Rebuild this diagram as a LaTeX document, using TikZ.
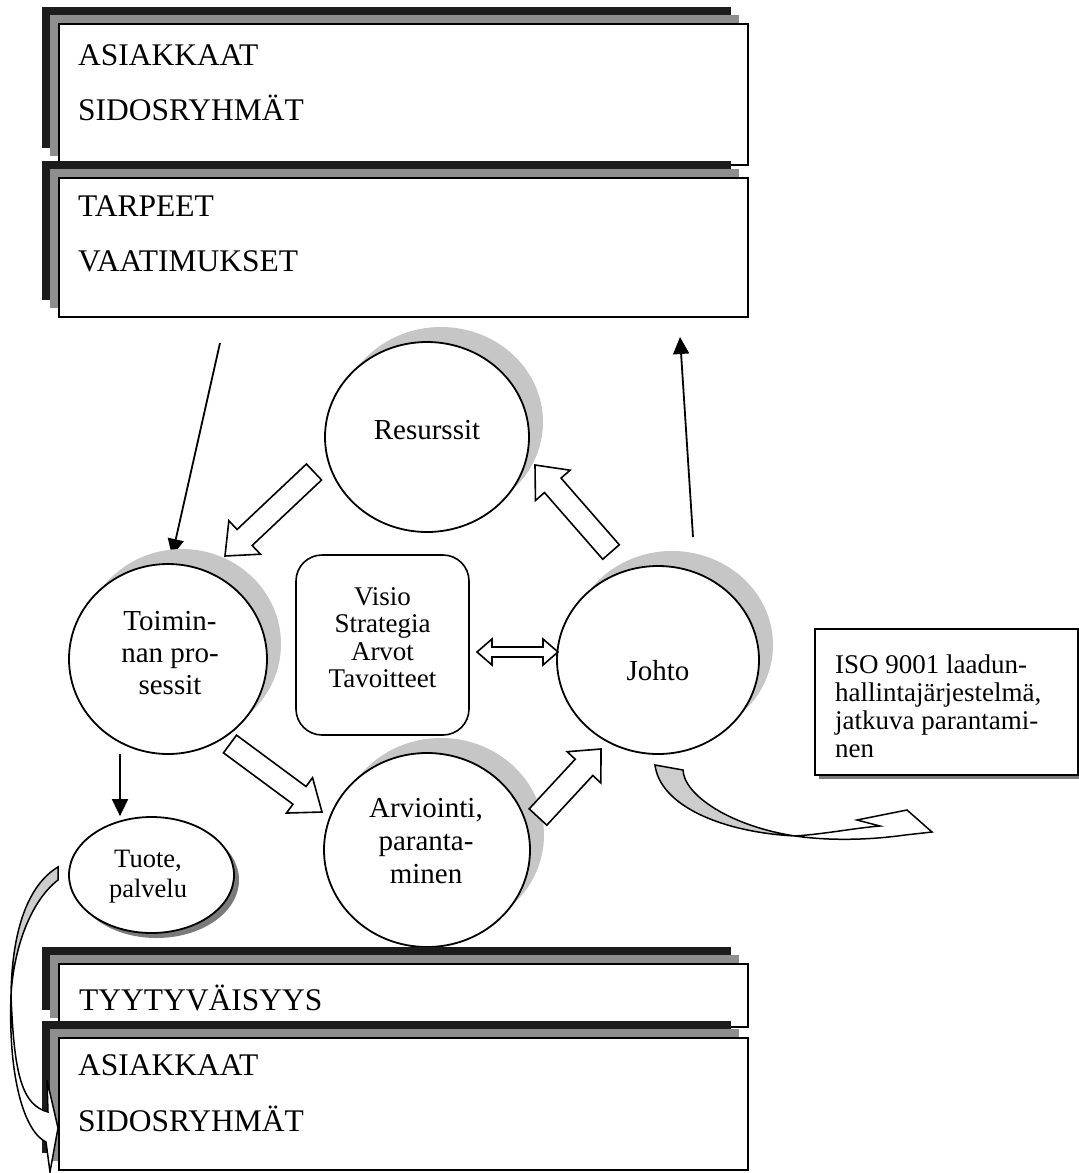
\documentclass[tikz,border=0pt]{standalone}
\usepackage{fontspec}
\setmainfont{Liberation Serif}
\usetikzlibrary{calc,arrows.meta,shapes.geometric}

\definecolor{shadowdark}{HTML}{1C1C1C}
\definecolor{shadowmid}{HTML}{8E8E8E}
\definecolor{orbshade}{HTML}{C6C6C6}
\definecolor{dropgray}{HTML}{7A7A7A}
\definecolor{ribbongray}{HTML}{CDCDCD}

\tikzset{
  panel/.style={draw=black, line width=2pt, fill=white, rectangle, inner sep=0pt, anchor=north west},
  orb/.style={draw=black, line width=1.8pt, fill=white, ellipse, inner sep=0pt},
  plate/.style={draw=black, line width=1.6pt, fill=white, rectangle, rounded corners=26pt, inner sep=0pt},
  notebox/.style={draw=black, line width=1.6pt, fill=white, rectangle, inner sep=0pt, anchor=north west},
  bigtext/.style={font=\fontsize{31.5}{38}\selectfont, inner sep=0pt, anchor=base west},
  orbtext/.style={font=\fontsize{29}{32}\selectfont, inner sep=0pt, anchor=base},
  hollow/.style={draw=black, line width=1.6pt, fill=white, line join=miter},
  pointer/.style={draw=black, line width=1.8pt, -{Triangle[length=17pt,width=16pt]}},
  ribbonline/.style={draw=black, line width=1.5pt, line join=miter},
}

% box with two stacked offset shadows (dark, then stippled grey)
\newcommand\layeredpanel[5]{%
  \fill[shadowdark] (#2-16,#3-16) rectangle (#4-16,#5-16);
  \fill[shadowmid] (#2-8,#3-8) rectangle (#4-8,#5-8);
  \node[panel, minimum width={#4-#2}, minimum height={#5-#3}] (#1) at (#2,#3) {};
}
% ellipse with a soft shadow towards the upper right
\newcommand\shadedorb[5]{%
  \fill[orbshade] (#2+14,#3-15) ellipse [x radius=#4, y radius=#5];
  \node[orb, minimum width={2*#4}, minimum height={2*#5}] (#1) at (#2,#3) {};
}
% hollow block arrow: tail, tip, shaft half-width, head length, head half-width
\newcommand\blockarrow[5]{%
  \coordinate (ba-base) at ($(#2)!#4!(#1)$);
  \draw[hollow] ($(#1)!#3!90:(#2)$) -- ($(ba-base)!#3!90:(#2)$) -- ($(ba-base)!#5!90:(#2)$) -- (#2)
    -- ($(ba-base)!#5!-90:(#2)$) -- ($(ba-base)!#3!-90:(#2)$) -- ($(#1)!#3!-90:(#2)$) -- cycle;
}

\begin{document}
\begin{tikzpicture}[x=1pt, y=-1pt]
\useasboundingbox (0,0) rectangle (1079,1173);
\fill[white] (0,0) rectangle (1079,1173);

% upper panels
\layeredpanel{top1}{58}{23}{747}{164}
\node[bigtext] (top1a) at (78,65) {ASIAKKAAT};
\node[bigtext] (top1b) at (78,120) {SIDOSRYHMÄT};
\layeredpanel{top2}{58}{177}{747}{316}
\node[bigtext] (top2a) at (78,216) {TARPEET};
\node[bigtext] (top2b) at (78,271) {VAATIMUKSET};

% thin connectors between the panels and the cycle
\coordinate (needs) at (220,343);
\coordinate (needsend) at (172,556);
\coordinate (leadfrom) at (693,537);
\coordinate (leadto) at (680,337);
\draw[pointer] (needs) -- (needsend);
\draw[pointer] (leadfrom) -- (leadto);

% the four process circles
\shadedorb{res}{427}{437}{102}{95}
\node[orbtext] (resT) at (427,439) {Resurssit};
\shadedorb{toim}{168}{659}{99}{95}
\node[orbtext] (toimT) at (170,630) {\begin{tabular}[t]{@{}c@{}}Toimin-\\nan pro-\\sessit\end{tabular}};
\shadedorb{johto}{658}{660}{101}{94}
\node[orbtext] (johtoT) at (658,680) {Johto};
\shadedorb{arv}{427}{850}{103}{97}
\node[orbtext, font=\fontsize{29}{33}\selectfont] (arvT) at (426,817) {\begin{tabular}[t]{@{}c@{}}Arviointi,\\paranta-\\minen\end{tabular}};

% cycle arrows
\coordinate (c1s) at (314,472); \coordinate (c1t) at (225,556);
\coordinate (c2s) at (611,552); \coordinate (c2t) at (535,465);
\coordinate (c3s) at (230,744); \coordinate (c3t) at (322,812);
\coordinate (c4s) at (538,817); \coordinate (c4t) at (601,749);
\blockarrow{c1s}{c1t}{11pt}{27pt}{23pt}
\blockarrow{c2s}{c2t}{11pt}{27pt}{23pt}
\blockarrow{c3s}{c3t}{11pt}{28pt}{22pt}
\blockarrow{c4s}{c4t}{12pt}{25pt}{23pt}

% centre plate
\node[plate, minimum width=173, minimum height=180] (plate) at (382.5,645) {};
\node[inner sep=0pt, anchor=base, font=\fontsize{27}{27.5}\selectfont] (plateT) at (382.5,605)
  {\begin{tabular}[t]{@{}c@{}}Visio\\Strategia\\Arvot\\Tavoitteet\end{tabular}};

% two-headed link between plate and Johto
\coordinate (dl) at (477,652);
\coordinate (dr) at (558,652);
\draw[hollow] (dl) -- ++(15,-13) -- ++(0,8) -- ++(51,0) -- ++(0,-8) -- (dr) -- ++(-15,13) -- ++(0,-8) -- ++(-51,0) -- ++(0,8) -- cycle;

% product ellipse
\fill[dropgray] (156.5,880) ellipse [x radius=82.5, y radius=58];
\node[orb, minimum width=165, minimum height=116] (tuote) at (151.5,875) {};
\node[inner sep=0pt, anchor=base, font=\fontsize{26.5}{30}\selectfont] (tuoteT) at (148,867)
  {\begin{tabular}[t]{@{}c@{}}Tuote,\\palvelu\end{tabular}};
\coordinate (prodfrom) at (120,754);
\draw[pointer] (prodfrom) -- (prodfrom |- tuote.north);

% quality system note
\fill[dropgray] (819,633) rectangle (1082,779);
\node[notebox, minimum width=263, minimum height=146] (iso) at (814,628) {};
\node[inner sep=0pt, anchor=base west, font=\fontsize{27}{28}\selectfont] (isoT) at (835,673)
  {\begin{tabular}[t]{@{}l@{}}ISO 9001 laadun-\\hallintajärjestelmä,\\jatkuva parantami-\\nen\end{tabular}};

% lower panels
\layeredpanel{low1}{58}{963}{747}{1026}
\node[bigtext] (low1a) at (79,1010) {TYYTYVÄISYYS};
\layeredpanel{low2}{58}{1037}{747}{1169}
\node[bigtext] (low2a) at (78,1075) {ASIAKKAAT};
\node[bigtext] (low2b) at (78,1131) {SIDOSRYHMÄT};

% curved arrow leaving Johto towards the note
\fill[white] (655,765) -- (683,770) .. controls (684,795) and (730,826) .. (795,836) .. controls (825,834) and (855,828) .. (880,826) -- (857,820) -- (907,810) -- (932,832) -- (905,835) .. controls (870,840) and (830,841) .. (795,836) .. controls (720,832) and (660,805) .. (655,765) -- cycle;
\fill[ribbongray] (655,765) -- (683,770) .. controls (684,795) and (730,826) .. (795,836) .. controls (720,832) and (660,805) .. (655,765) -- cycle;
\draw[ribbonline] (655,765) -- (683,770) .. controls (684,795) and (730,826) .. (795,836) .. controls (825,834) and (855,828) .. (880,826) -- (857,820) -- (907,810) -- (932,832) -- (905,835) .. controls (870,840) and (830,841) .. (795,836) .. controls (720,832) and (660,805) .. (655,765) -- cycle;

% curved arrow from the product down to the customers
\fill[white] (58,867) -- (58,880) .. controls (32,900) and (14,945) .. (11,995) .. controls (14,1075) and (22,1105) .. (48,1112) -- (47,1080) -- (58,1128) -- (50,1172) -- (46,1142) .. controls (25,1132) and (8,1080) .. (11,995) .. controls (12,930) and (28,885) .. (58,867) -- cycle;
\fill[ribbongray] (58,867) -- (58,880) .. controls (32,900) and (14,945) .. (11,995) .. controls (12,930) and (28,885) .. (58,867) -- cycle;
\draw[ribbonline] (58,867) -- (58,880) .. controls (32,900) and (14,945) .. (11,995) .. controls (14,1075) and (22,1105) .. (48,1112) -- (47,1080) -- (58,1128) -- (50,1172) -- (46,1142) .. controls (25,1132) and (8,1080) .. (11,995) .. controls (12,930) and (28,885) .. (58,867) -- cycle;
\end{tikzpicture}
\end{document}
